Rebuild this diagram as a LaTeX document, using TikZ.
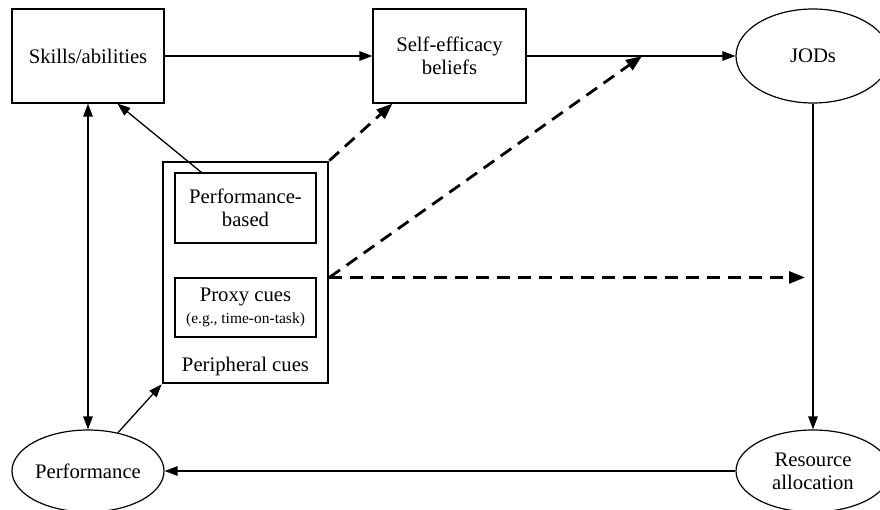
\documentclass[tikz,border=0pt]{standalone}
\usepackage{fontspec}
\setmainfont{Liberation Serif}
\usetikzlibrary{shapes.geometric,arrows.meta,calc}

\tikzset{
  txt/.style={font=\fontsize{20.7}{23}\selectfont, align=center, inner sep=0pt},
  boxnode/.style={txt, draw, line width=1.2pt, rectangle},
  ovalnode/.style={txt, draw, line width=1.2pt, ellipse},
  cuebox/.style={draw, line width=2.7pt, rectangle, inner sep=0pt},
  innerbox/.style={txt, draw, line width=1.1pt, rectangle},
  link/.style={line width=1.3pt, -{Triangle[length=13pt,width=9.5pt]}},
  duallink/.style={line width=1.3pt, {Triangle[length=13pt,width=9.5pt]}-{Triangle[length=13pt,width=9.5pt]}},
  cuelink/.style={line width=2.8pt, dash pattern=on 13pt off 8pt, -{Triangle[length=16pt,width=12pt]}},
}

\begin{document}
\begin{tikzpicture}[x=1pt, y=-1pt]
  \useasboundingbox (0,0) rectangle (880,510);

  % main constructs
  \node[boxnode, minimum width=152pt, minimum height=94pt] (sk) at (88,56) {Skills/abilities};
  \node[boxnode, minimum width=153pt, minimum height=94pt] (se) at (449.5,56) {Self-efficacy\\beliefs};
  \node[ovalnode, minimum width=154pt, minimum height=94pt] (jod) at (813,56) {JODs};
  \node[ovalnode, minimum width=154pt, minimum height=82pt] (ra) at (813,471) {Resource\\allocation};
  \node[ovalnode, minimum width=152pt, minimum height=82pt] (pf) at (88,471) {Performance};

  % peripheral cues group
  \node[cuebox, minimum width=165pt, minimum height=221pt] (pc) at (245.5,272.5) {};
  \node[innerbox, minimum width=141pt, minimum height=70pt] (pb) at (245.5,208) {Performance-\\based};
  \node[innerbox, minimum width=141pt, minimum height=59pt] (px) at (245.5,307.5)
    {Proxy cues\\[-1pt]{\fontsize{15.5}{17}\selectfont (e.g., time-on-task)}};
  \node[txt] (pclab) at (245.5,367) {Peripheral cues};

  % free ends of the dashed paths
  \coordinate (m1) at (642,56);
  \coordinate (m2) at ($(jod.south |- px.north)+(-8,0)$);

  % solid paths
  \draw[link] (sk) -- (se);
  \draw[link] (se) -- (jod);
  \draw[link] (jod) -- (ra);
  \draw[link] (ra) -- (pf);
  \draw[duallink] (sk) -- (pf);
  \draw[link] (pf.52) -- (pc.south west);
  \draw[link] ($(pb.north west)+(27,0)$) -- ($(sk.south west)+(106,0)$);

  % dashed paths from the cues
  \draw[cuelink] (pc.north east) -- ($(se.south west)+(20,0)$);
  \draw[cuelink] (pc.east |- px.north) -- (m1);
  \draw[cuelink] (pc.east |- px.north) -- (m2);
\end{tikzpicture}
\end{document}
